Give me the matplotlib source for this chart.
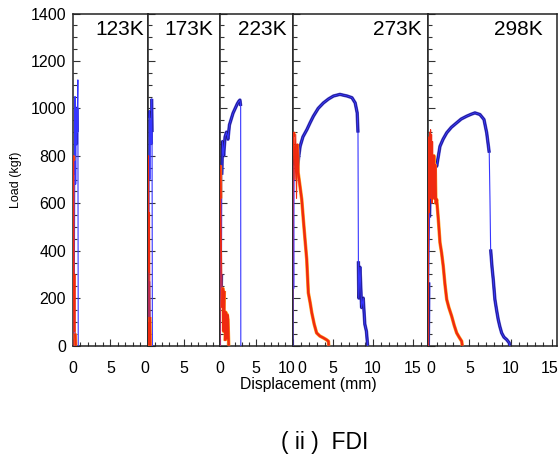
import numpy as np
import matplotlib
matplotlib.use("Agg")
import matplotlib.pyplot as plt
from matplotlib.ticker import MultipleLocator, FixedLocator
import matplotlib.transforms as mtransforms

plt.rcParams['font.family'] = ['Liberation Sans', 'DejaVu Sans']

# ---------------- data ----------------
temps = ["123K", "173K", "223K", "273K", "298K"]
x_max = [10, 10, 10, 16.9, 15.65]
x_major = [[0, 5], [0, 5], [0, 5, 10], [0, 5, 10, 15], [0, 5, 10, 15]]
y_major = [0, 200, 400, 600, 800, 1000, 1200, 1400]

blue_123_x = [0.15, 0.2, 0.27, 0.3, 0.33, 0.36, 0.4, 0.45, 0.5, 0.55, 0.65, 0.7]
blue_123_y = [0, 450, 1050, 720, 1000, 680, 980, 850, 1000, 900, 1120, 0]
red_123_x = [0.0, 0.05, 0.1, 0.15, 0.2, 0.25, 0.3, 0.35]
red_123_y = [0, 800, 780, 280, 60, 300, 50, 0]

blue_173_x = [0.1, 0.13, 0.17, 0.2, 0.25, 0.3, 0.35, 0.4, 0.45, 0.5, 0.55, 0.6, 0.65]
blue_173_y = [0, 270, 100, 960, 990, 700, 950, 880, 930, 850, 1040, 900, 0]
red_173_x = [0.0, 0.05, 0.1, 0.15, 0.2, 0.25, 0.3, 0.35]
red_173_y = [0, 100, 800, 570, 310, 560, 120, 0]

blue_223_x = [0.05, 0.1, 0.15, 0.2, 0.25, 0.35, 0.5, 0.7, 0.9, 1.1, 1.3, 1.5, 1.8,
              2.1, 2.4, 2.6, 2.75, 2.85, 2.87]
blue_223_y = [0, 750, 160, 300, 720, 860, 800, 880, 900, 870, 930, 950, 980,
              1000, 1020, 1030, 1035, 1010, 0]
red_223_x = [0.0, 0.05, 0.1, 0.2, 0.3, 0.4, 0.5, 0.6, 0.7, 0.8, 0.9, 1.0, 1.1, 1.2]
red_223_y = [0, 760, 620, 400, 160, 240, 60, 230, 20, 140, 30, 130, 110, 0]

blue_273_x = [0.05, 0.1, 0.15, 0.2, 0.4, 0.6, 0.75, 0.95, 1.3, 1.8, 2.2, 2.6, 3.2,
              3.85, 4.5, 5.1, 5.9, 6.4, 6.8, 7.4, 7.8, 8.05, 8.15, 8.2, 8.25, 8.4,
              8.6, 8.8, 9.0, 9.2, 9.35]
blue_273_y = [0, 700, 240, 760, 800, 730, 790, 840, 880, 911, 940, 967, 1000,
              1023, 1040, 1052, 1059, 1055, 1052, 1045, 1023, 981, 898, 355, 200, 330,
              160, 200, 90, 60, 0]
red_273_x = [0.0, 0.05, 0.1, 0.2, 0.3, 0.4, 0.5, 0.6, 0.7, 0.9, 1.15, 1.35, 1.55,
             1.77, 1.97, 2.2, 2.4, 2.7, 3.0, 3.4, 3.85, 4.2, 4.47, 4.5]
red_273_y = [0, 500, 880, 900, 700, 890, 620, 850, 730, 680, 616, 531, 450,
             363, 222, 180, 138, 90, 53, 40, 32, 25, 18, 0]

blue_298_x = [0.0, 0.03, 0.06, 0.15, 0.2, 0.3, 0.41, 0.6, 0.8, 1.02, 1.42, 1.8,
              2.24, 2.8, 3.45, 4.0, 4.67, 5.2, 5.67, 6.28, 6.77, 7.1, 7.41, 7.5,
              7.58, 7.75, 7.9, 8.1, 8.3, 8.5, 8.7, 8.92, 9.2, 9.53, 9.84, 9.9]
blue_298_y = [0, 130, 266, 540, 616, 760, 798, 760, 780, 756, 840, 870,
              897, 920, 939, 955, 967, 975, 981, 974, 953, 897, 813, 616,
              405, 330, 278, 194, 150, 110, 80, 53, 35, 25, 11, 0]
red_298_x = [0.0, 0.04, 0.08, 0.12, 0.17, 0.22, 0.28, 0.34, 0.4, 0.46, 0.52, 0.6,
             0.68, 0.76, 0.84, 0.92, 1.02, 1.22, 1.42, 1.62, 1.82, 2.02, 2.24, 2.5,
             2.84, 3.15, 3.45, 3.75, 4.06, 4.13]
red_298_y = [0, 650, 880, 560, 900, 620, 910, 680, 890, 600, 860, 640,
             800, 620, 760, 600, 616, 531, 434, 390, 334, 260, 194, 160,
             124, 85, 53, 35, 18, 0]

blue_x = [blue_123_x, blue_173_x, blue_223_x, blue_273_x, blue_298_x]
blue_y = [blue_123_y, blue_173_y, blue_223_y, blue_273_y, blue_298_y]
red_x = [red_123_x, red_173_x, red_223_x, red_273_x, red_298_x]
red_y = [red_123_y, red_173_y, red_223_y, red_273_y, red_298_y]

# ---------------- layout ----------------
W, H = 558, 459
fig = plt.figure(figsize=(W / 100, H / 100), dpi=100)
edges = [73, 147.7, 220, 292.5, 428.3, 557]
top_px, bot_px = 13.5, 345.5
title_right_off = [4, 7, 6, 7, 14]
# pixel shifts of crowded edge labels: (panel, tick value) -> dx px
label_shift = {(1, 0): -2.5, (2, 10): -6, (3, 0): 9, (4, 0): 3, (4, 15): -2.5}

RED, ORANGE = '#f02a10', '#ffa020'
NAVY, BLUE, HALO = '#1c1470', '#3535ff', '#5050dd'


def thick_part(x, y, thr=180):
    x = np.asarray(x, float)
    y = np.asarray(y, float)
    xs, ys = [x[0]], [y[0]]
    for i in range(1, len(x)):
        if abs(y[i] - y[i - 1]) > thr:
            xs.append(np.nan)
            ys.append(np.nan)
        xs.append(x[i])
        ys.append(y[i])
    return np.array(xs), np.array(ys)


for i in range(5):
    l, r = edges[i], edges[i + 1]
    ax = fig.add_axes([l / W, (H - bot_px) / H, (r - l) / W, (bot_px - top_px) / H])
    ax.set_xlim(0, x_max[i])
    ax.set_ylim(0, 1400)

    # blue series
    bx, by = thick_part(blue_x[i], blue_y[i])
    ax.plot(bx, by, color=HALO, lw=2.5, solid_capstyle='butt', zorder=2)
    ax.plot(bx, by, color=NAVY, lw=1.7, solid_capstyle='butt', zorder=3)
    ax.plot(blue_x[i], blue_y[i], color=BLUE, lw=0.8, zorder=3.5)
    # red series
    rx, ry = thick_part(red_x[i], red_y[i])
    ax.plot(rx, ry, color=ORANGE, lw=2.5, solid_capstyle='butt', zorder=4)
    ax.plot(rx, ry, color=RED, lw=1.7, solid_capstyle='butt', zorder=5)
    ax.plot(red_x[i], red_y[i], color=RED, lw=0.8, zorder=5.5)

    ax.xaxis.set_major_locator(FixedLocator(x_major[i]))
    ax.xaxis.set_minor_locator(MultipleLocator(1))
    ax.yaxis.set_major_locator(FixedLocator(y_major))
    ax.yaxis.set_minor_locator(MultipleLocator(50))
    ax.tick_params(which='both', direction='in', top=False, right=False,
                   width=0.8, color='#333333')
    ax.tick_params(which='major', length=5)
    ax.tick_params(which='minor', length=3)
    ax.tick_params(axis='x', which='major', labelsize=11.5, pad=11)
    ax.tick_params(axis='y', which='major', labelsize=11.5, pad=5)
    ax.set_xticklabels([str(v) for v in x_major[i]])
    if i == 0:
        ax.set_yticklabels([str(v) for v in y_major])
        ax.set_ylabel('Load (kgf)', fontsize=9, labelpad=6)
    else:
        ax.set_yticklabels([])
    for s in ax.spines.values():
        s.set_linewidth(1.1)
        s.set_color('#222222')

    for k, v in enumerate(x_major[i]):
        if (i, v) in label_shift:
            tick = ax.xaxis.get_major_ticks()[k]
            off = mtransforms.ScaledTranslation(label_shift[(i, v)] / 100, 0,
                                                fig.dpi_scale_trans)
            tick.label1.set_transform(tick.label1.get_transform() + off)

    ax.text(1 - title_right_off[i] / (r - l), 1 - 6.5 / (bot_px - top_px), temps[i],
            transform=ax.transAxes, ha='right', va='top', fontsize=15)

fig.text(308 / W, 1 - 384 / H, 'Displacement (mm)', ha='center', va='center',
         fontsize=11.3)
fig.text(325 / W, 1 - 443 / H, '( ii )  FDI', ha='center', va='center',
         fontsize=16.5)

fig.savefig('out.png', dpi=100)
